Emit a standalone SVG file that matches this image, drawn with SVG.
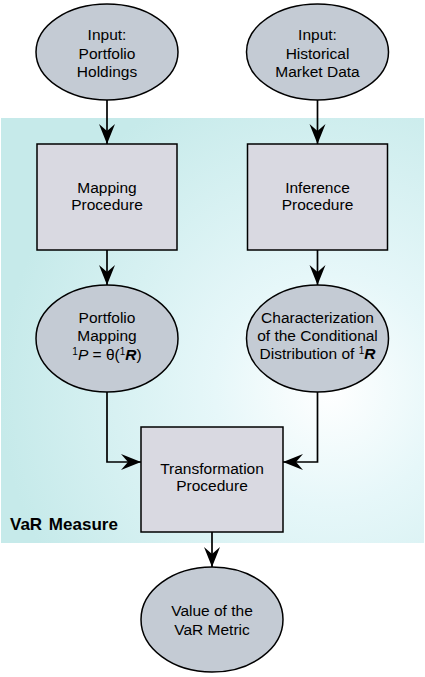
<svg xmlns="http://www.w3.org/2000/svg" width="425" height="677" viewBox="0 0 425 677">
<defs>
<radialGradient id="bg" cx="330" cy="390" r="330" gradientUnits="userSpaceOnUse">
<stop offset="0" stop-color="#ffffff"/>
<stop offset="0.35" stop-color="#e6f7f9"/>
<stop offset="1" stop-color="#c6eaea"/>
</radialGradient>
<marker id="ah" markerWidth="22" markerHeight="18" refX="20" refY="8" orient="auto" markerUnits="userSpaceOnUse">
<path d="M20,8 L0,0 L7,8 L0,16 Z" fill="#000"/>
</marker>
<style>
.ell{fill:#c4cbd4;stroke:#000;stroke-width:1.5}
.box{fill:#d9d9e1;stroke:#000;stroke-width:1.5}
.t{font-family:"Liberation Sans",Arial,sans-serif;font-size:15.5px;fill:#000;text-anchor:middle}
.c{fill:none;stroke:#000;stroke-width:1.7}
</style>
</defs>
<rect x="1" y="118" width="423" height="425" fill="url(#bg)"/>
<text x="10" y="530" font-family="'Liberation Sans',Arial,sans-serif" font-size="17" font-weight="bold" word-spacing="2">VaR Measure</text>
<g id="connectors">
<line class="c" x1="107" y1="100" x2="107" y2="144" marker-end="url(#ah)"/>
<line class="c" x1="317.5" y1="100" x2="317.5" y2="144" marker-end="url(#ah)"/>
<line class="c" x1="107" y1="250" x2="107" y2="285" marker-end="url(#ah)"/>
<line class="c" x1="317.5" y1="250" x2="317.5" y2="285" marker-end="url(#ah)"/>
<polyline class="c" points="107,392 107,462 141,462" marker-end="url(#ah)"/>
<polyline class="c" points="317.5,392 317.5,462 283,462" marker-end="url(#ah)"/>
<line class="c" x1="212" y1="532" x2="212" y2="567" marker-end="url(#ah)"/>
</g>
<g id="input-portfolio">
<ellipse class="ell" cx="107" cy="52" rx="71" ry="48"/>
<text class="t" x="107" y="40">Input:</text>
<text class="t" x="107" y="59">Portfolio</text>
<text class="t" x="107" y="77">Holdings</text>
</g>
<g id="input-market">
<ellipse class="ell" cx="317.5" cy="52" rx="71" ry="48"/>
<text class="t" x="317.5" y="40">Input:</text>
<text class="t" x="317.5" y="59">Historical</text>
<text class="t" x="317.5" y="77">Market Data</text>
</g>
<g id="mapping">
<rect class="box" x="37" y="144" width="140" height="106"/>
<text class="t" x="107" y="193">Mapping</text>
<text class="t" x="107" y="210">Procedure</text>
</g>
<g id="inference">
<rect class="box" x="247.5" y="144" width="140" height="106"/>
<text class="t" x="317.5" y="193">Inference</text>
<text class="t" x="317.5" y="210">Procedure</text>
</g>
<g id="portfolio-mapping">
<ellipse class="ell" cx="107" cy="338.5" rx="71" ry="53.5"/>
<text class="t" x="107" y="323">Portfolio</text>
<text class="t" x="107" y="341">Mapping</text>
<text class="t" x="107" y="360"><tspan font-size="10" dy="-5">1</tspan><tspan font-style="italic" dy="5">P</tspan> = θ(<tspan font-size="10" dy="-5">1</tspan><tspan font-style="italic" font-weight="bold" dy="5">R</tspan>)</text>
</g>
<g id="characterization">
<ellipse class="ell" cx="317.5" cy="338.5" rx="71" ry="53.5"/>
<text class="t" x="317.5" y="323">Characterization</text>
<text class="t" x="317.5" y="341">of the Conditional</text>
<text class="t" x="317.5" y="359">Distribution of <tspan font-size="10" dy="-5">1</tspan><tspan font-style="italic" font-weight="bold" dy="5">R</tspan></text>
</g>
<g id="transformation">
<rect class="box" x="141" y="427" width="142" height="105"/>
<text class="t" x="212" y="474">Transformation</text>
<text class="t" x="212" y="491">Procedure</text>
</g>
<g id="var-value">
<ellipse class="ell" cx="212" cy="619.5" rx="71" ry="52.5"/>
<text class="t" x="212" y="616">Value of the</text>
<text class="t" x="212" y="635">VaR Metric</text>
</g>
</svg>
